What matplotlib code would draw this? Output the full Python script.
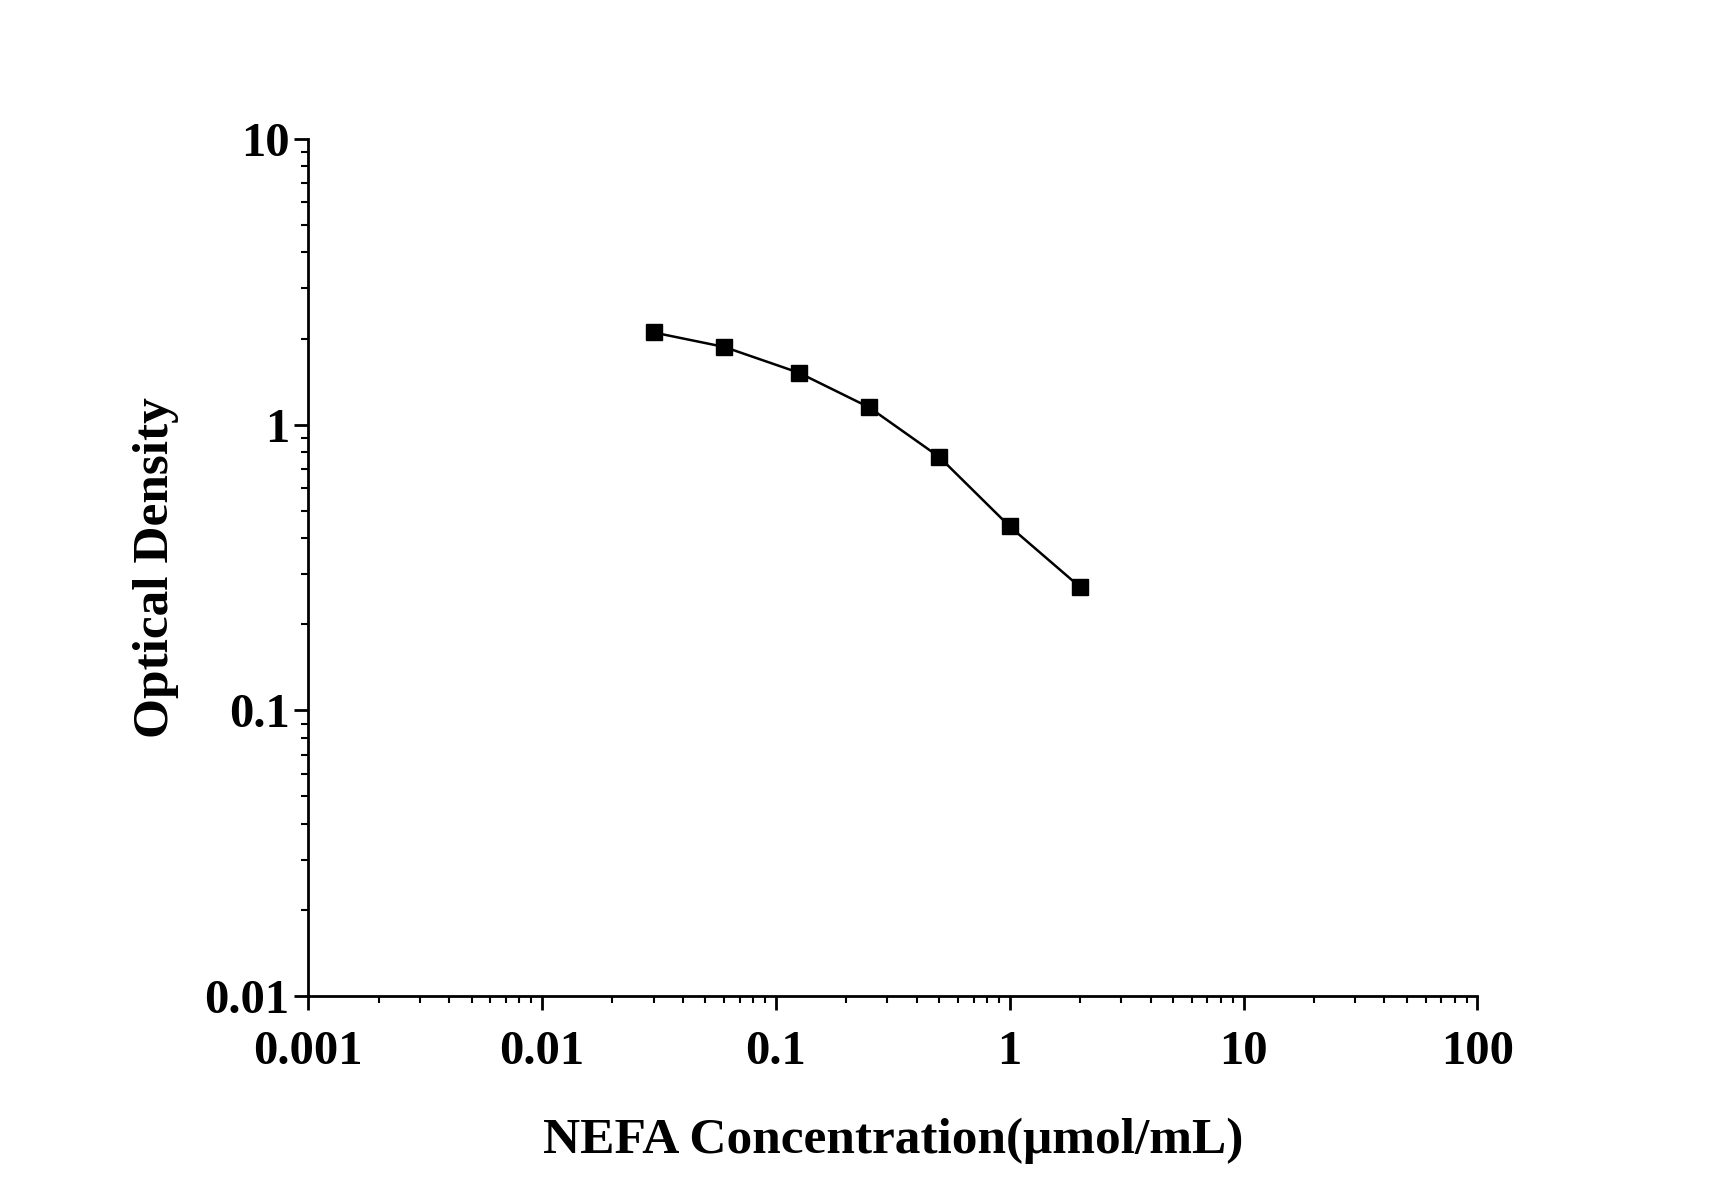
import matplotlib
matplotlib.use("Agg")
import matplotlib.pyplot as plt
from matplotlib.ticker import LogLocator, FixedLocator, FixedFormatter

conc = [0.03, 0.06, 0.125, 0.25, 0.5, 1, 2]
od = [2.1, 1.87, 1.52, 1.15, 0.77, 0.44, 0.27]
x_ticks = [0.001, 0.01, 0.1, 1, 10, 100]
x_labels = ["0.001", "0.01", "0.1", "1", "10", "100"]
y_ticks = [0.01, 0.1, 1, 10]
y_labels = ["0.01", "0.1", "1", "10"]

plt.rcParams["font.family"] = ["Liberation Serif", "DejaVu Serif"]
plt.rcParams["font.weight"] = "bold"

fig = plt.figure(figsize=(17.12, 11.96), dpi=100)
ax = fig.add_axes([0.180, 0.167, 0.683, 0.717])
ax.plot(conc, od, color="black", lw=1.8, marker="s", ms=12)
ax.set_xscale("log")
ax.set_yscale("log")
ax.set_xlim(0.001, 100)
ax.set_ylim(0.01, 10)
ax.xaxis.set_major_locator(FixedLocator(x_ticks))
ax.xaxis.set_major_formatter(FixedFormatter(x_labels))
ax.yaxis.set_major_locator(FixedLocator(y_ticks))
ax.yaxis.set_major_formatter(FixedFormatter(y_labels))
ax.xaxis.set_minor_locator(LogLocator(base=10, subs=range(2, 10)))
ax.yaxis.set_minor_locator(LogLocator(base=10, subs=range(2, 10)))
ax.xaxis.set_minor_formatter(FixedFormatter([]))
ax.yaxis.set_minor_formatter(FixedFormatter([]))
for s in ["top", "right"]:
    ax.spines[s].set_visible(False)
for s in ["left", "bottom"]:
    ax.spines[s].set_linewidth(2)
ax.tick_params(which="major", direction="out", length=10, width=2, labelsize=35)
ax.tick_params(axis="x", which="major", pad=14)
ax.tick_params(which="minor", direction="out", length=5, width=1.5)
ax.set_xlabel("NEFA Concentration(μmol/mL)", fontsize=37, fontweight="bold", labelpad=32)
ax.set_ylabel("Optical Density", fontsize=37, fontweight="bold", labelpad=18)
fig.savefig("out.png", dpi=100)
